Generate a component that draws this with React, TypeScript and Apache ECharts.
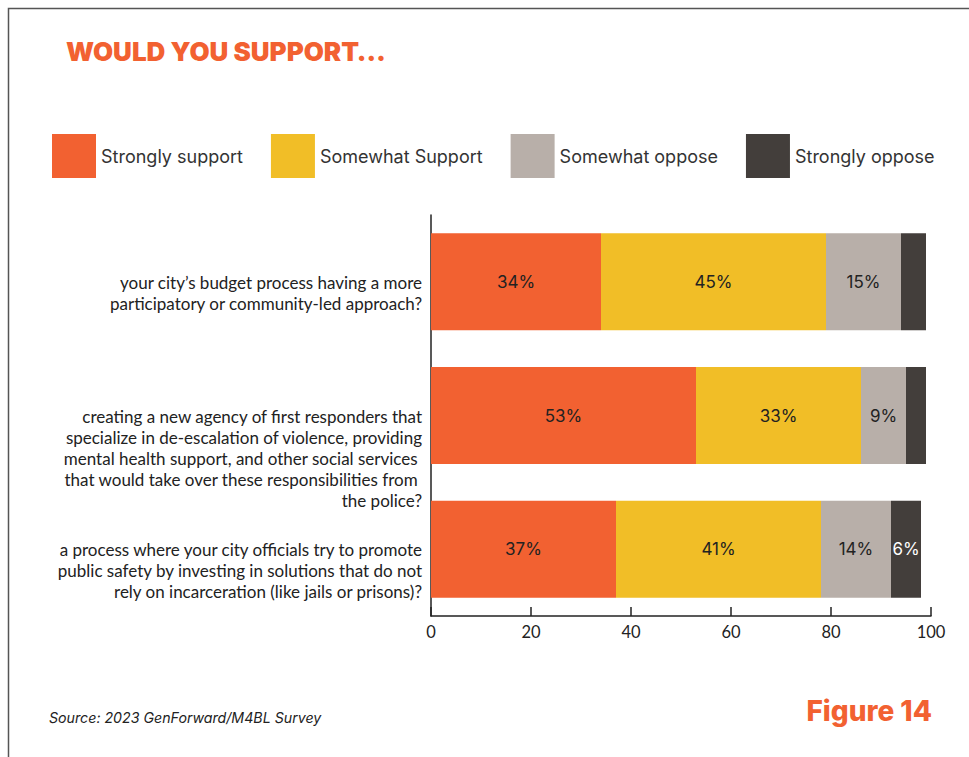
import React, { useEffect, useRef } from "react";
import * as echarts from "echarts";

const categories = [
  "your city’s budget process having a more\nparticipatory or community-led approach?",
  "creating a new agency of first responders that\nspecialize in de-escalation of violence, providing\nmental health support, and other social services \nthat would take over these responsibilities from \nthe police?",
  "a process where your city officials try to promote\npublic safety by investing in solutions that do not\nrely on incarceration (like jails or prisons)?",
];
const seriesNames = ["Strongly support", "Somewhat Support", "Somewhat oppose", "Strongly oppose"];
const stronglySupport = [34, 53, 37];
const somewhatSupport = [45, 33, 41];
const somewhatOppose = [15, 9, 14];
const stronglyOppose = [5, 4, 6];
const xTicks = [0, 20, 40, 60, 80, 100];

const colors = ["#F26131", "#F1BE27", "#B8AFA9", "#433E3B"];
const labelColors = ["#222222", "#222222", "#222222", "#FFFFFF"];
const minLabelValue = 6;

const LABEL_FONT = "Inter, 'Noto Sans', sans-serif";
const CAT_FONT = "Lato, 'Liberation Sans', sans-serif";

export default function App() {
  const ref = useRef<HTMLDivElement>(null);
  useEffect(() => {
    if (!ref.current) return;
    const chart = echarts.init(ref.current, undefined, { renderer: "svg" });
    const all = [stronglySupport, somewhatSupport, somewhatOppose, stronglyOppose];
    const series = all.map((vals, i) => ({
      name: seriesNames[i],
      type: "bar",
      stack: "total",
      barWidth: 97,
      itemStyle: { color: colors[i] },
      label: {
        show: true,
        position: "inside",
        formatter: "{c}%",
        color: labelColors[i],
        fontSize: 17,
        fontFamily: LABEL_FONT,
      },
      data: vals.map((v) => ({ value: v, label: { show: v >= minLabelValue } })),
    }));
    chart.setOption({
      animation: false,
      backgroundColor: "#ffffff",
      legend: {
        left: 52,
        top: 134,
        padding: 0,
        itemWidth: 44,
        itemHeight: 44,
        itemGap: 28,
        icon: "rect",
        selectedMode: false,
        data: seriesNames,
        textStyle: { fontSize: 18, color: "#333333", fontFamily: LABEL_FONT },
      },
      grid: { left: 431, right: 38, top: 215, bottom: 141, containLabel: false },
      xAxis: {
        type: "value",
        min: xTicks[0],
        max: xTicks[xTicks.length - 1],
        interval: xTicks[1] - xTicks[0],
        axisLine: { show: true, lineStyle: { color: "#222", width: 1.5 } },
        axisTick: { show: true, inside: true, length: 9, lineStyle: { color: "#222", width: 1.5 } },
        splitLine: { show: false },
        axisLabel: { color: "#222", fontSize: 16.5, margin: 7, fontFamily: CAT_FONT },
      },
      yAxis: {
        type: "category",
        inverse: true,
        data: categories,
        axisLine: { show: true, lineStyle: { color: "#222", width: 1.5 } },
        axisTick: { show: false },
        axisLabel: {
          color: "#222",
          fontSize: 17,
          lineHeight: 21,
          margin: 9,
          align: "right",
          verticalAlign: "top",
          padding: [-10, 0, 0, 0],
          fontFamily: CAT_FONT,
        },
      },
      graphic: [
        {
          type: "polyline",
          shape: { points: [[8.5, 757], [8.5, 8.5], [969, 8.5]] },
          style: { stroke: "#555", lineWidth: 1.5, fill: null },
        },
        {
          type: "text",
          left: 66,
          top: 38,
          style: {
            text: "WOULD YOU SUPPORT…",
            fill: "#F26131",
            font: "900 26px Inter, 'Noto Sans', sans-serif",
          },
        },
        {
          type: "text",
          left: 49,
          top: 710,
          style: {
            text: "Source: 2023 GenForward/M4BL Survey",
            fill: "#222",
            font: "italic 14.2px Inter, 'Noto Sans', sans-serif",
          },
        },
        {
          type: "text",
          right: 37,
          top: 697,
          style: {
            text: "Figure 14",
            fill: "#F26131",
            font: "800 28px Inter, 'Noto Sans', sans-serif",
          },
        },
      ],
      series,
    });
    return () => chart.dispose();
  }, []);
  return (
    <div
      ref={ref}
      style={{ position: "fixed", left: 0, top: 0, width: 969, height: 757, background: "#fff" }}
    />
  );
}
